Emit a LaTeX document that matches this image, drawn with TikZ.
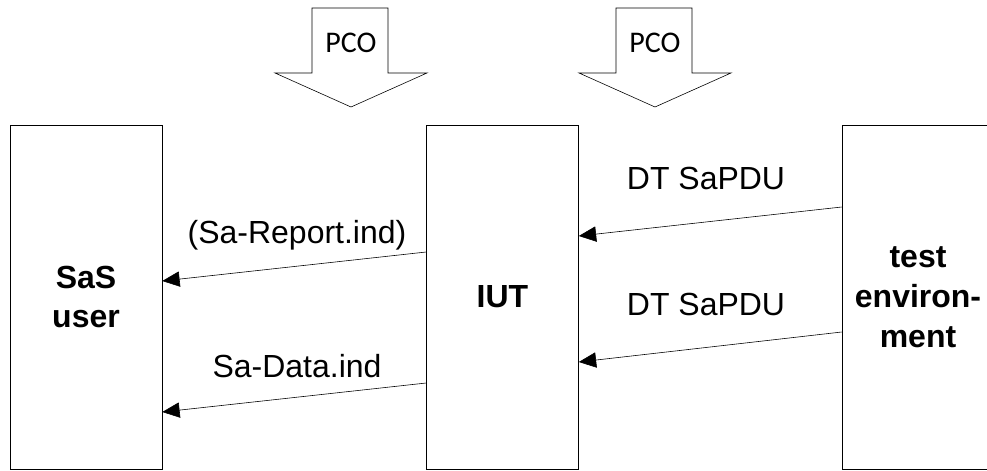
\documentclass[tikz,border=0pt]{standalone}
\usepackage{fontspec}
\setmainfont{Liberation Sans}
\newfontfamily\pcofont{Carlito}
\usetikzlibrary{arrows.meta}

\begin{document}
\begin{tikzpicture}[x=0.3mm, y=-0.3mm, line width=0.5pt,
    font=\fontsize{27.3}{34}\selectfont,
    box/.style={draw, minimum width=45.6mm, minimum height=103.2mm, align=center,
        font=\fontsize{27.3}{34}\selectfont\bfseries},
    msg/.style={-{Triangle[length=5.2mm, width=4.6mm]}},
    pco/.style={font=\pcofont\fontsize{25.6}{30}\selectfont, anchor=base}]
    \useasboundingbox (0,0) rectangle (987,471);
    \draw (312,8) -- (388,8) -- (388,73) -- (427,73) -- (351,107) -- (275,73) -- (312,73) -- cycle;
    \node[pco] (pco1) at (351,53) {PCO};
    \draw (616,8) -- (692,8) -- (692,73) -- (731,73) -- (655,107) -- (579,73) -- (616,73) -- cycle;
    \node[pco] (pco2) at (655,53) {PCO};
    \node[box] (user) at (86,297) {SaS\\user};
    \node[box] (iut) at (502.5,297) {IUT};
    \node[box] (env) at (918,297) {test\\environ-\\ment};
    \draw[msg] (env.west |- 0,207) -- (iut.east |- 0,236);
    \node[anchor=base] (dt1) at (706,190) {DT SaPDU};
    \draw[msg] (env.west |- 0,332) -- (iut.east |- 0,362);
    \node[anchor=base] (dt2) at (706,315) {DT SaPDU};
    \draw[msg] (iut.west |- 0,252) -- (user.east |- 0,281);
    \node[anchor=base] (report) at (297,243) {(Sa-Report.ind)};
    \draw[msg] (iut.west |- 0,383) -- (user.east |- 0,412);
    \node[anchor=base] (data) at (297,377) {Sa-Data.ind};
\end{tikzpicture}
\end{document}
